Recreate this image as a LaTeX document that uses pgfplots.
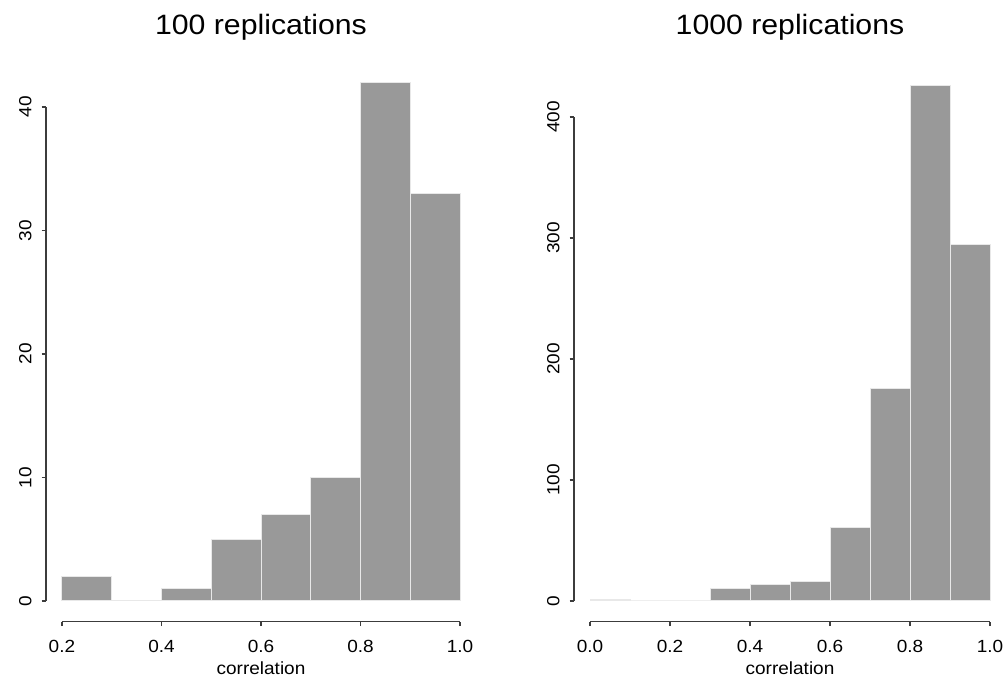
\documentclass[border=0pt]{standalone}
\usepackage{fontspec}
\setmainfont{Liberation Sans}[FakeStretch=1.08]
\usepackage{pgfplots}
\pgfplotsset{compat=1.18}

\definecolor{histgray}{RGB}{153,153,153}
\definecolor{binedge}{RGB}{232,232,232}
\definecolor{axisgray}{RGB}{60,60,60}

\pgfplotsset{rhist/.style={
  scale only axis,
  anchor=south west,
  clip=false,
  axis line style={draw=none},
  tick align=outside,
  xtick pos=left, ytick pos=left,
  major tick length=2.2pt,
  tick style={axisgray, line width=0.6pt},
  ticklabel style={font=\fontsize{8.8}{10}\selectfont},
  /pgf/number format/assume math mode=true,
  xticklabel style={/pgf/number format/.cd, fixed, fixed zerofill, precision=1},
  xticklabel shift=3.4pt,
  yticklabel style={rotate=90, anchor=south},
  yticklabel shift=1.5pt,
  title style={at={(0.5,1)}, anchor=base, font=\fontsize{14}{16}\selectfont},
  xlabel style={at={(axis description cs:0.5,0)}, anchor=center, yshift=-23.5pt, font=\fontsize{8.8}{10}\selectfont},
}}

\begin{document}
\begin{tikzpicture}
\useasboundingbox (0,0) rectangle (504pt,340.5pt);

% left: 100 replications
\begin{axis}[rhist,
  at={(23pt,29.65pt)}, width=215pt, height=280.1pt,
  xmin=0.168, xmax=1.032, ymin=-1.68, ymax=43.68,
  xtick={0.2,0.4,0.6,0.8,1.0}, ytick={0,10,20,30,40},
  title={100 replications}, title style={yshift=7.25pt},
  xlabel={correlation},
]
\addplot[ybar interval, fill=histgray, draw=binedge, line width=0.5pt] coordinates {
  (0.2,2) (0.3,0) (0.4,1) (0.5,5) (0.6,7) (0.7,10) (0.8,42) (0.9,33) (1.0,33)
};
\draw[axisgray, line width=0.6pt] (axis cs:0.2,-1.68) -- (axis cs:1.0,-1.68);
\draw[axisgray, line width=0.6pt] (axis cs:0.168,0) -- (axis cs:0.168,40);
\end{axis}

% right: 1000 replications
\begin{axis}[rhist,
  at={(287pt,29.7pt)}, width=216pt, height=278.35pt,
  xmin=-0.04, xmax=1.04, ymin=-17.04, ymax=443.04,
  xtick={0,0.2,0.4,0.6,0.8,1.0}, ytick={0,100,200,300,400},
  title={1000 replications}, title style={yshift=8.95pt},
  xlabel={correlation},
]
\addplot[ybar interval, fill=histgray, draw=binedge, line width=0.5pt] coordinates {
  (0.0,1) (0.1,0) (0.2,0) (0.3,10) (0.4,14) (0.5,16) (0.6,61) (0.7,176) (0.8,426) (0.9,295) (1.0,295)
};
\draw[axisgray, line width=0.6pt] (axis cs:0,-17.04) -- (axis cs:1.0,-17.04);
\draw[axisgray, line width=0.6pt] (axis cs:-0.04,0) -- (axis cs:-0.04,400);
\end{axis}
\end{tikzpicture}
\end{document}
